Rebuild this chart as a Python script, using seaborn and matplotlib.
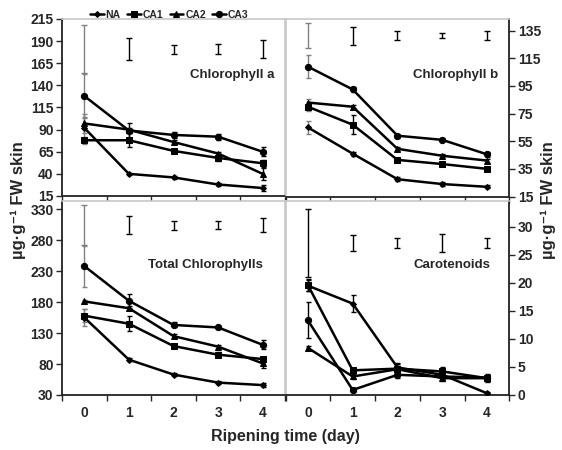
import matplotlib
matplotlib.use("Agg")
import matplotlib.pyplot as plt
import seaborn as sns
import numpy as np
import pandas as pd
from matplotlib.ticker import FixedLocator, NullFormatter

sns.set_style("ticks")
FAM = ['Liberation Sans Narrow', 'Liberation Sans', 'DejaVu Sans']
plt.rcParams['font.family'] = FAM
plt.rcParams['font.weight'] = 'bold'

days = [0, 1, 2, 3, 4]
series = ["NA", "CA1", "CA2", "CA3"]

# Chlorophyll a
a_NA = [92, 40, 36, 28, 24];      a_NA_err = [12, 1.5, 2, 1.5, 3]
a_CA1 = [78, 78, 66, 58, 52];     a_CA1_err = [4, 8, 2.5, 4, 4]
a_CA2 = [97, 90, 76, 63, 40];     a_CA2_err = [11, 2, 2, 2, 7]
a_CA3 = [128, 89, 84, 82, 65];    a_CA3_err = [25, 9, 3.5, 3.5, 5]
a_lsd_mid = 181;                  a_lsd_half = [27.5, 12, 5, 5.5, 10]

# Chlorophyll b
b_NA = [65, 46, 27.5, 24, 22];    b_NA_err = [5, 1.5, 1.5, 1.5, 1]
b_CA1 = [80, 67, 41.5, 38.5, 35]; b_CA1_err = [3, 7, 1.5, 1.5, 1.5]
b_CA2 = [83, 80, 49.5, 44.5, 41]; b_CA2_err = [2.5, 1, 1.5, 1, 1.5]
b_CA3 = [109, 92.5, 59, 56, 45.5]; b_CA3_err = [8.5, 1.5, 1.5, 1, 2]
b_lsd_mid = 131.5;                b_lsd_half = [9, 6.5, 3.5, 1.8, 3]

# Total chlorophylls
t_NA = [155, 87, 63, 50, 46];     t_NA_err = [14, 2, 3, 2, 3]
t_CA1 = [158, 145, 109, 95, 88];  t_CA1_err = [10, 12, 3, 4, 4]
t_CA2 = [181, 170, 125, 108, 81]; t_CA2_err = [2, 3, 3, 2, 8]
t_CA3 = [238, 182, 143, 139, 111]; t_CA3_err = [33, 11, 4, 3, 7]
t_lsd_mid = 304;                  t_lsd_half = [32.5, 14, 7.5, 6, 11]

# Carotenoids
c_NA = [19.5, 16.3, 4.9, 3.6, 0.3]; c_NA_err = [1, 1.5, 0.8, 1, 0.2]
c_CA1 = [19.6, 4.4, 4.7, 4.2, 3.0]; c_CA1_err = [1, 0.5, 0.8, 0.8, 0.7]
c_CA2 = [8.4, 3.3, 4.6, 3.0, 3.0];  c_CA2_err = [0.3, 0.5, 0.5, 0.5, 0.5]
c_CA3 = [13.3, 0.9, 3.6, 3.3, 3.1]; c_CA3_err = [3.2, 0.3, 0.5, 0.5, 0.5]
c_lsd_mid = 27.1;                   c_lsd_half = [6, 1.4, 0.9, 1.6, 0.9]

panels = [
    dict(title="Chlorophyll a", vals=[a_NA, a_CA1, a_CA2, a_CA3],
         errs=[a_NA_err, a_CA1_err, a_CA2_err, a_CA3_err],
         lsd_mid=a_lsd_mid, lsd_half=a_lsd_half,
         ylim=(15, 215), yticks=list(range(15, 216, 25)),
         rect=[62, 19, 285, 196], right=False, bottom=False,
         tpos=(0.955, 0.684), gray0=True),
    dict(title="Chlorophyll b", vals=[b_NA, b_CA1, b_CA2, b_CA3],
         errs=[b_NA_err, b_CA1_err, b_CA2_err, b_CA3_err],
         lsd_mid=b_lsd_mid, lsd_half=b_lsd_half,
         ylim=(15, 143.5), yticks=list(range(15, 136, 20)),
         rect=[285.5, 19, 509.5, 196.5], right=True, bottom=False,
         tpos=(0.949, 0.684), gray0=True),
    dict(title="Total Chlorophylls", vals=[t_NA, t_CA1, t_CA2, t_CA3],
         errs=[t_NA_err, t_CA1_err, t_CA2_err, t_CA3_err],
         lsd_mid=t_lsd_mid, lsd_half=t_lsd_half,
         ylim=(30, 343), yticks=list(range(30, 331, 50)),
         rect=[62, 201, 285, 395], right=False, bottom=True,
         tpos=(0.90, 0.67), gray0=True),
    dict(title="Carotenoids", vals=[c_NA, c_CA1, c_CA2, c_CA3],
         errs=[c_NA_err, c_CA1_err, c_CA2_err, c_CA3_err],
         lsd_mid=c_lsd_mid, lsd_half=c_lsd_half,
         ylim=(0, 34.6), yticks=list(range(0, 31, 5)),
         rect=[285.5, 201, 509.5, 395], right=True, bottom=True,
         tpos=(0.913, 0.67), gray0=False),
]

markers = {"NA": "D", "CA1": "s", "CA2": "^", "CA3": "o"}
msizes = {"NA": 3.0, "CA1": 4.5, "CA2": 4.5, "CA3": 4.5}

W, H = 562, 450
fig = plt.figure(figsize=(W / 100, H / 100), dpi=100)
GRAY = "#c8c8c8"
EGRAY = "#808080"

handles = None
for p in panels:
    x0, y0, x1, y1 = p["rect"]
    ax = fig.add_axes([x0 / W, 1 - y1 / H, (x1 - x0) / W, (y1 - y0) / H])
    for name, v, e in zip(series, p["vals"], p["errs"]):
        df = pd.DataFrame({"day": days, "val": v})
        sns.lineplot(data=df, x="day", y="val", ax=ax, color="black",
                     marker=markers[name], markersize=msizes[name],
                     markeredgecolor="black", linewidth=1.8, label=name,
                     legend=False, zorder=3)
        cols = [EGRAY if (p["gray0"] and d == 0) else "black" for d in days]
        for d, val, err, c in zip(days, v, e, cols):
            ax.errorbar([d], [val], yerr=[err], fmt="none", ecolor=c,
                        elinewidth=1.0, capsize=1.8, capthick=1.0, zorder=2)
    for d, h in zip(days, p["lsd_half"]):
        c = EGRAY if (p["gray0"] and d == 0) else "black"
        ax.errorbar([d], [p["lsd_mid"]], yerr=[h], fmt="none", ecolor=c,
                    elinewidth=1.0, capsize=2.2, capthick=1.0, zorder=2)
    if handles is None:
        handles, labels = ax.get_legend_handles_labels()

    ax.set_xlim(-0.5, 4.5)
    ax.set_ylim(*p["ylim"])
    ax.set_yticks(p["yticks"])
    ax.set_xticks(days)
    ax.xaxis.set_minor_locator(FixedLocator([-0.5, 0.5, 1.5, 2.5, 3.5, 4.5]))
    ax.tick_params(axis="x", which="major", length=0, labelsize=10, pad=8)
    ax.tick_params(axis="x", which="minor", length=4, width=1, direction="out")
    ax.tick_params(axis="y", length=4, width=1, direction="out", labelsize=10, pad=2)
    if not p["bottom"]:
        ax.set_xticklabels([])
    for lab in ax.get_xticklabels() + ax.get_yticklabels():
        lab.set_fontweight("bold")
    ax.set_xlabel("")
    ax.set_ylabel("")
    for s in ax.spines.values():
        s.set_visible(True)
        s.set_color(GRAY)
        s.set_linewidth(1.2)
    ax.spines["bottom"].set_color("#222222")
    ax.spines["bottom"].set_linewidth(1.3)
    if p["right"]:
        ax.yaxis.tick_right()
        ax.spines["right"].set_color("#222222")
        ax.spines["right"].set_linewidth(1.3)
    else:
        ax.spines["left"].set_color("#222222")
        ax.spines["left"].set_linewidth(1.3)
    ax.text(p["tpos"][0], p["tpos"][1], p["title"], transform=ax.transAxes,
            ha="right", va="center", fontsize=9.5, fontweight="bold")

fig.legend(handles, labels, loc="center", bbox_to_anchor=(0.301, 0.967),
           ncol=4, frameon=False, handlelength=1.3,
           handletextpad=0.2, columnspacing=0.6, prop={"weight": "bold", "size": 7.5})

ylab = "µg·g⁻¹ FW skin"
fig.text(18 / W, 1 - 200 / H, ylab, rotation=90, ha="center", va="center",
         fontsize=12, fontweight="bold")
fig.text(548 / W, 1 - 200 / H, ylab, rotation=90, ha="center", va="center",
         fontsize=12, fontweight="bold")
fig.text(285 / W, 1 - 437 / H, "Ripening time (day)", ha="center", va="center",
         fontsize=11.5, fontweight="bold")

fig.savefig("out.png", dpi=100)
